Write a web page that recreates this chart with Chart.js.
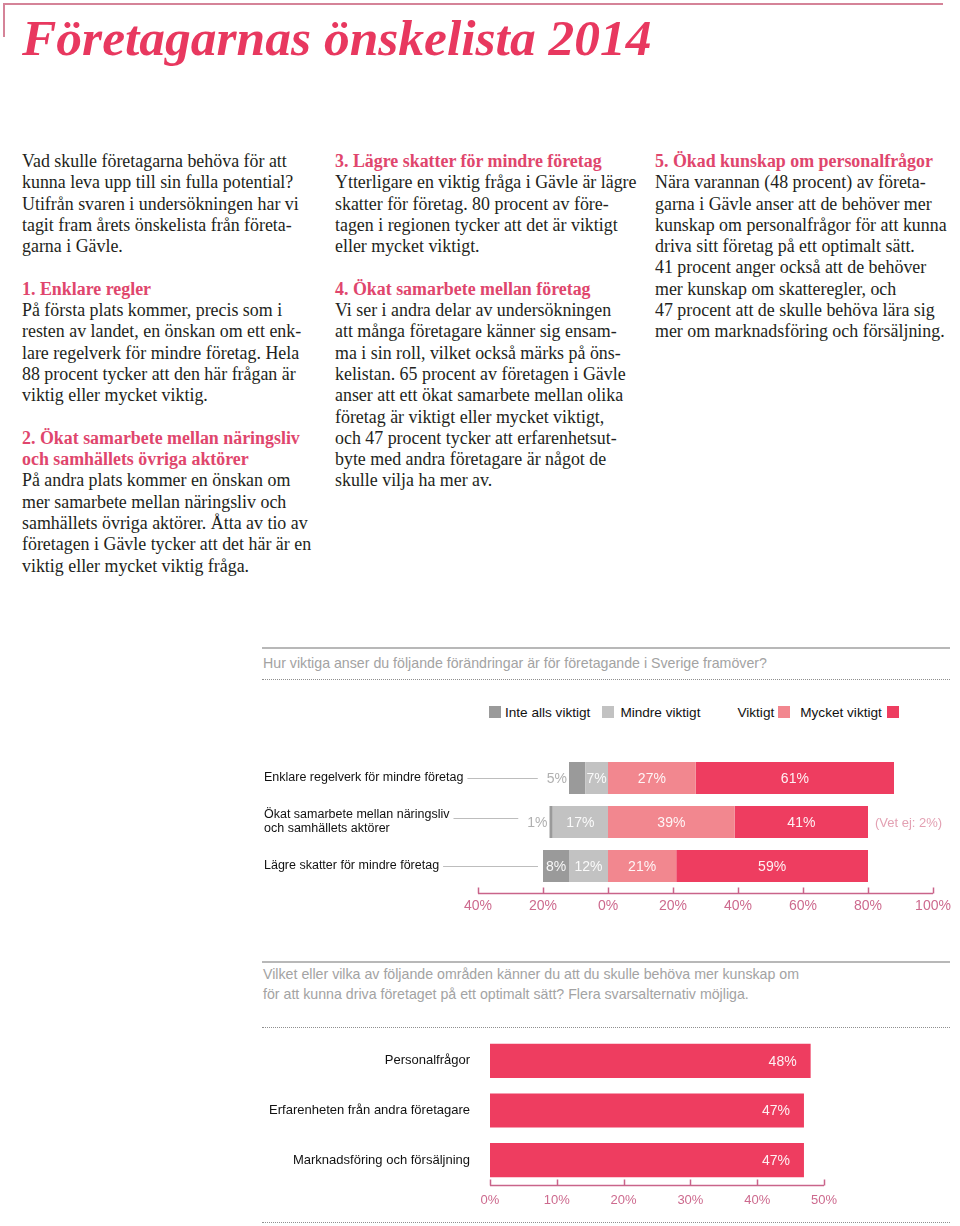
<!DOCTYPE html>
<html lang="sv">
<head>
<meta charset="utf-8">
<title>Företagarnas önskelista 2014</title>
<script src="https://cdn.jsdelivr.net/npm/chart.js@4.4.1/dist/chart.umd.min.js"></script>
<style>
  html, body { margin: 0; padding: 0; background: #fff; }
  body { width: 960px; height: 1226px; position: relative; overflow: hidden; font-family: "Liberation Sans", Arial, sans-serif; }
  .frame-top { position: absolute; left: 3px; top: 3px; width: 940px; border-top: 2px solid #d58398; }
  .frame-left { position: absolute; left: 3px; top: 3px; height: 34px; border-left: 2px solid #d58398; }
  h1 { position: absolute; left: 22px; top: 12px; margin: 0; font: italic bold 51.5px/51.5px "Liberation Serif", serif; color: #e8385f; white-space: nowrap; }
  .col { position: absolute; top: 151px; font: 17.9px/21.3px "Liberation Serif", serif; color: #231f20; white-space: nowrap; }
  .hd { font-weight: bold; color: #e0466d; }
  .rule { position: absolute; left: 262px; width: 688px; height: 2px; background: #b8b8b8; }
  .dots { position: absolute; left: 262px; width: 688px; border-top: 1px dotted #8f8f8f; }
  .question { position: absolute; left: 263px; font-size: 14.2px; line-height: 20px; color: #a3a3a3; white-space: nowrap; }
  #legend { position: absolute; left: 489px; top: 703px; height: 18px; display: flex; align-items: center; font-size: 13.6px; color: #111; white-space: nowrap; }
  #legend .box { width: 12px; height: 12px; display: inline-block; }
  canvas { position: absolute; }
</style>
</head>
<body>
<div class="frame-top"></div>
<div class="frame-left"></div>
<h1>Företagarnas önskelista 2014</h1>

<div class="col" style="left:22px">Vad skulle företagarna behöva för att<br>kunna leva upp till sin fulla potential?<br>Utifrån svaren i undersökningen har vi<br>tagit fram årets önskelista från företa-<br>garna i Gävle.<br><br><span class="hd">1. Enklare regler</span><br>På första plats kommer, precis som i<br>resten av landet, en önskan om ett enk-<br>lare regelverk för mindre företag. Hela<br>88 procent tycker att den här frågan är<br>viktig eller mycket viktig.<br><br><span class="hd">2. Ökat samarbete mellan näringsliv<br>och samhällets övriga aktörer</span><br>På andra plats kommer en önskan om<br>mer samarbete mellan näringsliv och<br>samhällets övriga aktörer. Åtta av tio av<br>företagen i Gävle tycker att det här är en<br>viktig eller mycket viktig fråga.</div>

<div class="col" style="left:335px"><span class="hd">3. Lägre skatter för mindre företag</span><br>Ytterligare en viktig fråga i Gävle är lägre<br>skatter för företag. 80 procent av före-<br>tagen i regionen tycker att det är viktigt<br>eller mycket viktigt.<br><br><span class="hd">4. Ökat samarbete mellan företag</span><br>Vi ser i andra delar av undersökningen<br>att många företagare känner sig ensam-<br>ma i sin roll, vilket också märks på öns-<br>kelistan. 65 procent av företagen i Gävle<br>anser att ett ökat samarbete mellan olika<br>företag är viktigt eller mycket viktigt,<br>och 47 procent tycker att erfarenhetsut-<br>byte med andra företagare är något de<br>skulle vilja ha mer av.</div>

<div class="col" style="left:655px"><span class="hd">5. Ökad kunskap om personalfrågor</span><br>Nära varannan (48 procent) av företa-<br>garna i Gävle anser att de behöver mer<br>kunskap om personalfrågor för att kunna<br>driva sitt företag på ett optimalt sätt.<br>41 procent anger också att de behöver<br>mer kunskap om skatteregler, och<br>47 procent att de skulle behöva lära sig<br>mer om marknadsföring och försäljning.</div>

<div class="rule" style="top:647px"></div>
<div class="question" style="top:653px">Hur viktiga anser du följande förändringar är för företagande i Sverige framöver?</div>
<div class="dots" style="top:679px"></div>
<div id="legend"></div>
<canvas id="viktigaChart" width="710" height="180" style="left:250px; top:740px"></canvas>

<div class="rule" style="top:961px"></div>
<div class="question" style="top:964px">Vilket eller vilka av följande områden känner du att du skulle behöva mer kunskap om<br>för att kunna driva företaget på ett optimalt sätt? Flera svarsalternativ möjliga.</div>
<div class="dots" style="top:1027px"></div>
<canvas id="kunskapChart" width="710" height="190" style="left:250px; top:1030px"></canvas>
<div class="dots" style="top:1222px"></div>

<script>
// --- chart 1: hur viktiga ---
const viktigaCategories = [
  'Enklare regelverk för mindre företag',
  ['Ökat samarbete mellan näringsliv', 'och samhällets aktörer'],
  'Lägre skatter för mindre företag'
];
const inteAllsViktigt = [5, 1, 8];
const mindreViktigt = [7, 17, 12];
const viktigt = [27, 39, 21];
const mycketViktigt = [61, 41, 59];
const vetEj = [null, 2, null];
const viktigaTicks = [-40, -20, 0, 20, 40, 60, 80, 100];

// --- chart 2: kunskap ---
const kunskapCategories = ['Personalfrågor', 'Erfarenheten från andra företagare', 'Marknadsföring och försäljning'];
const kunskapValues = [48, 47, 47];
const kunskapTicks = [0, 10, 20, 30, 40, 50];

const legendLabels = ['Inte alls viktigt', 'Mindre viktigt', 'Viktigt', 'Mycket viktigt'];

const colors = {
  inteAlls: '#9a9a9a',
  mindre: '#c2c2c2',
  viktigt: '#f2878f',
  mycket: '#ee3d60',
  axis: '#c9648a',
  tickText: '#cd6a8e',
  outside: '#b0b0b0',
  vetEj: '#e3a1b3'
};
const legendColors = [colors.inteAlls, colors.mindre, colors.viktigt, colors.mycket];

const SANS = '"Liberation Sans", Arial, sans-serif';
Chart.defaults.font.family = SANS;
Chart.defaults.animation = false;
Chart.defaults.plugins.legend.display = false;
Chart.defaults.plugins.tooltip.enabled = false;

// legend (box before text for the first two, after for the last two)
const legend = document.getElementById('legend');
const boxGaps = [4, 6, 4, 5];
const itemGaps = [12, 37, 10, 0];
legendLabels.forEach((lbl, i) => {
  const box = document.createElement('span');
  box.className = 'box';
  box.style.background = legendColors[i];
  const txt = document.createElement('span');
  txt.textContent = lbl;
  if (i < 2) {
    box.style.marginRight = boxGaps[i] + 'px';
    txt.style.marginRight = itemGaps[i] + 'px';
    legend.append(box, txt);
  } else {
    txt.style.marginRight = boxGaps[i] + 'px';
    box.style.marginRight = itemGaps[i] + 'px';
    legend.append(txt, box);
  }
});

// axis line with ticks pointing up
const axisLine = {
  id: 'axisLine',
  afterDraw(chart, args, opts) {
    const x = chart.scales.x;
    const ctx = chart.ctx;
    const y = Math.round(chart.chartArea.bottom + opts.offset) + 0.5;
    ctx.save();
    ctx.strokeStyle = colors.axis;
    ctx.lineWidth = 1.5;
    ctx.beginPath();
    ctx.moveTo(x.left, y);
    ctx.lineTo(x.right, y);
    x.ticks.forEach(t => {
      const px = Math.round(x.getPixelForValue(t.value)) + 0.5;
      ctx.moveTo(px, y);
      ctx.lineTo(px, y - 6);
    });
    ctx.stroke();
    ctx.restore();
  }
};

const segmentLabels = {
  id: 'segmentLabels',
  afterDatasetsDraw(chart) {
    const ctx = chart.ctx;
    ctx.save();
    ctx.font = '14px ' + SANS;
    ctx.textBaseline = 'middle';
    chart.data.datasets.forEach((ds, di) => {
      chart.getDatasetMeta(di).data.forEach((bar, i) => {
        const v = ds.shown[i];
        const left = Math.min(bar.x, bar.base);
        const right = Math.max(bar.x, bar.base);
        const txt = v + '%';
        if (ds.endLabel) {
          ctx.fillStyle = 'rgba(255,255,255,0.92)';
          ctx.textAlign = 'right';
          ctx.fillText(txt, right - 14, bar.y + 1);
        } else if (right - left < 20) {
          ctx.fillStyle = colors.outside;
          ctx.textAlign = 'right';
          ctx.fillText(txt, left - 2, bar.y + 1);
        } else {
          ctx.fillStyle = 'rgba(255,255,255,0.92)';
          ctx.textAlign = 'center';
          ctx.fillText(txt, (left + right) / 2, bar.y + 1);
        }
      });
    });
    ctx.restore();
  }
};

// grey connector lines from category label to bar + "Vet ej" note
const connectors = {
  id: 'connectors',
  afterDraw(chart) {
    const ctx = chart.ctx;
    const yScale = chart.scales.y;
    const metaNeg = chart.getDatasetMeta(1);
    const metaPos = chart.getDatasetMeta(3);
    ctx.save();
    ctx.strokeStyle = '#bdbdbd';
    ctx.lineWidth = 1;
    viktigaCategories.forEach((cat, i) => {
      const lines = Array.isArray(cat) ? cat : [cat];
      ctx.font = '12.5px ' + SANS;
      const w = Math.max(...lines.map(l => ctx.measureText(l).width));
      const bar = metaNeg.data[i];
      let end = Math.min(bar.x, bar.base);
      if (Math.abs(bar.x - bar.base) < 20) {
        ctx.font = '14px ' + SANS;
        end -= 2 + ctx.measureText(inteAllsViktigt[i] + '%').width + 9;
      } else {
        end -= 5;
      }
      const y = Math.round(bar.y + (lines.length > 1 ? -4 : 0)) + 0.5;
      ctx.beginPath();
      ctx.moveTo(yScale.left + w + 4, y);
      ctx.lineTo(end, y);
      ctx.stroke();
    });
    ctx.font = '13px ' + SANS;
    ctx.fillStyle = colors.vetEj;
    ctx.textAlign = 'left';
    ctx.textBaseline = 'middle';
    vetEj.forEach((v, i) => {
      if (v == null) return;
      const bar = metaPos.data[i];
      ctx.fillText('(Vet ej: ' + v + '%)', bar.x + 7, bar.y + 1);
    });
    ctx.restore();
  }
};

// fixed axis boxes so the chart area lands where the print layout has it
const fixY = w => s => { s.width = w; s.paddingTop = 0; s.paddingBottom = 0; };
const fixX = h => s => { s.height = h; s.paddingLeft = 0; s.paddingRight = 0; };

new Chart(document.getElementById('viktigaChart'), {
  type: 'bar',
  data: {
    labels: viktigaCategories,
    datasets: [
      { label: legendLabels[1], data: mindreViktigt.map(v => -v), shown: mindreViktigt, backgroundColor: colors.mindre },
      { label: legendLabels[0], data: inteAllsViktigt.map(v => -v), shown: inteAllsViktigt, backgroundColor: colors.inteAlls },
      { label: legendLabels[2], data: viktigt, shown: viktigt, backgroundColor: colors.viktigt },
      { label: legendLabels[3], data: mycketViktigt, shown: mycketViktigt, backgroundColor: colors.mycket }
    ]
  },
  options: {
    responsive: false,
    indexAxis: 'y',
    datasets: { bar: { barPercentage: 0.727, categoryPercentage: 1 } },
    layout: { padding: { left: 14, right: 27, top: 16, bottom: 6 } },
    scales: {
      x: {
        stacked: true,
        min: -40,
        max: 100,
        afterBuildTicks: s => { s.ticks = viktigaTicks.map(v => ({ value: v })); },
        grid: { display: false, drawTicks: false },
        border: { display: false },
        ticks: { callback: v => Math.abs(v) + '%', color: colors.tickText, font: { size: 14 }, padding: 10, maxRotation: 0, autoSkip: false },
        afterFit: fixX(26)
      },
      y: {
        stacked: true,
        grid: { display: false, drawTicks: false },
        border: { display: false },
        ticks: { crossAlign: 'far', color: '#111', font: { size: 12.5, lineHeight: 1.12 }, padding: 0 },
        afterFit: fixY(214)
      }
    },
    plugins: { axisLine: { offset: 5 } }
  },
  plugins: [axisLine, segmentLabels, connectors]
});

new Chart(document.getElementById('kunskapChart'), {
  type: 'bar',
  data: {
    labels: kunskapCategories,
    datasets: [
      { label: 'Andel', data: kunskapValues, shown: kunskapValues, endLabel: true, backgroundColor: colors.mycket }
    ]
  },
  options: {
    responsive: false,
    indexAxis: 'y',
    datasets: { bar: { barPercentage: 0.687, categoryPercentage: 1 } },
    layout: { padding: { left: 0, right: 136, top: 6, bottom: 11 } },
    scales: {
      x: {
        min: 0,
        max: 50,
        afterBuildTicks: s => { s.ticks = kunskapTicks.map(v => ({ value: v })); },
        grid: { display: false, drawTicks: false },
        border: { display: false },
        ticks: { callback: v => v + '%', color: colors.tickText, font: { size: 13 }, padding: 8, maxRotation: 0, autoSkip: false },
        afterFit: fixX(24)
      },
      y: {
        grid: { display: false, drawTicks: false },
        border: { display: false },
        ticks: { color: '#111', font: { size: 13 }, padding: 20 },
        afterFit: fixY(240)
      }
    },
    plugins: { axisLine: { offset: 0 } }
  },
  plugins: [axisLine, segmentLabels]
});
</script>
</body>
</html>
